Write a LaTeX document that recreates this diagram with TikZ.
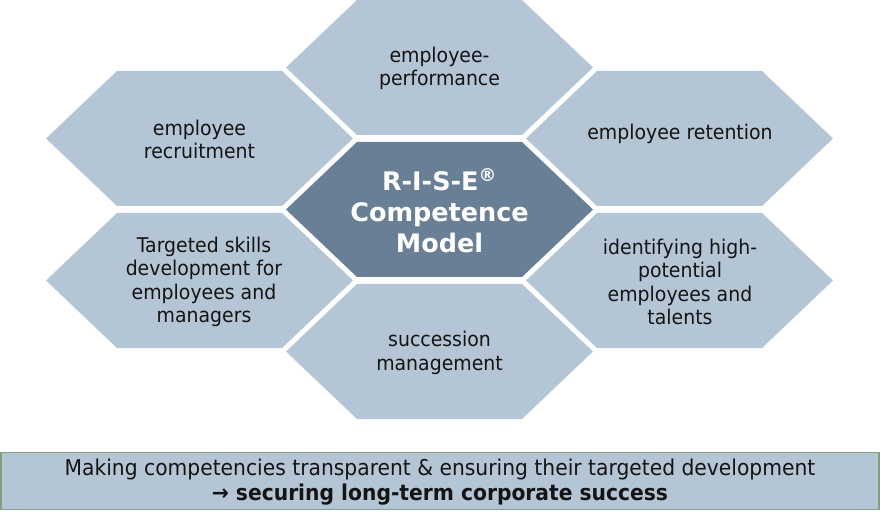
\documentclass[tikz,border=0pt]{standalone}
\usepackage{fontspec}
\setmainfont{DejaVu Sans}
\newfontfamily\hexfont{DejaVu Sans}[FakeStretch=0.93]
\newfontfamily\bottomfont{DejaVu Sans}[FakeStretch=0.93]
\definecolor{hexlight}{HTML}{B4C6D5}
\definecolor{hexdark}{HTML}{687F96}
\definecolor{boxborder}{HTML}{84A084}
\definecolor{txt}{HTML}{141414}
\newcommand\hexcell[3]{%
  \fill[#3] (#1) ++(-153.5,0) -- ++(71,-67.5) -- ++(165,0) -- ++(71,67.5)
     -- ++(-71,67.5) -- ++(-165,0) -- cycle;
  \coordinate (#2) at (#1);}
\tikzset{
  hextext/.style={align=center, text=txt, font=\hexfont\fontsize{20.3}{23.5}\selectfont, inner sep=0pt},
  centertext/.style={align=center, text=white, font=\fontsize{25.5}{31}\selectfont\bfseries, inner sep=0pt},
  bottombox/.style={draw=boxborder, line width=1.5pt, fill=hexlight, minimum width=878pt, minimum height=57pt, inner sep=0pt},
  bottomtext/.style={align=center, text=txt, font=\bottomfont\fontsize{21.8}{25}\selectfont, inner sep=0pt}
}
\begin{document}
\begin{tikzpicture}[x=1pt,y=-1pt]
\useasboundingbox (0,0) rectangle (880,518);
\hexcell{439.5,67.5}{ctop}{hexlight}
\hexcell{199.5,138.5}{cleftup}{hexlight}
\hexcell{679.5,138.5}{crightup}{hexlight}
\hexcell{439.5,209.5}{ccenter}{hexdark}
\hexcell{199.5,280.5}{cleftlow}{hexlight}
\hexcell{679.5,280.5}{crightlow}{hexlight}
\hexcell{439.5,351.5}{cbottom}{hexlight}
\node[hextext] (ttop) at (439.5,68.5) {employee-\\performance};
\node[hextext] (tleftup) at (199.5,139.5) {employee\\recruitment};
\node[hextext] (trightup) at (680,133.5) {employee retention};
\node[centertext] (tcenter) at (439.5,211) {R-I-S-E\textsuperscript{®}\\Competence\\Model};
\node[hextext] (tleftlow) at (204,282) {Targeted skills\\development for\\employees and\\managers};
\node[hextext] (trightlow) at (680,282) {identifying high-\\potential\\employees and\\talents};
\node[hextext] (tbottom) at (439.5,353) {succession\\management};
\node[bottombox] (box) at (440,481) {};
\node[bottomtext] (btext) at (440,482) {Making competencies transparent \& ensuring their targeted development\\{\fontsize{21.8}{25}\selectfont\bfseries → securing long-term corporate success}};
\end{tikzpicture}
\end{document}
